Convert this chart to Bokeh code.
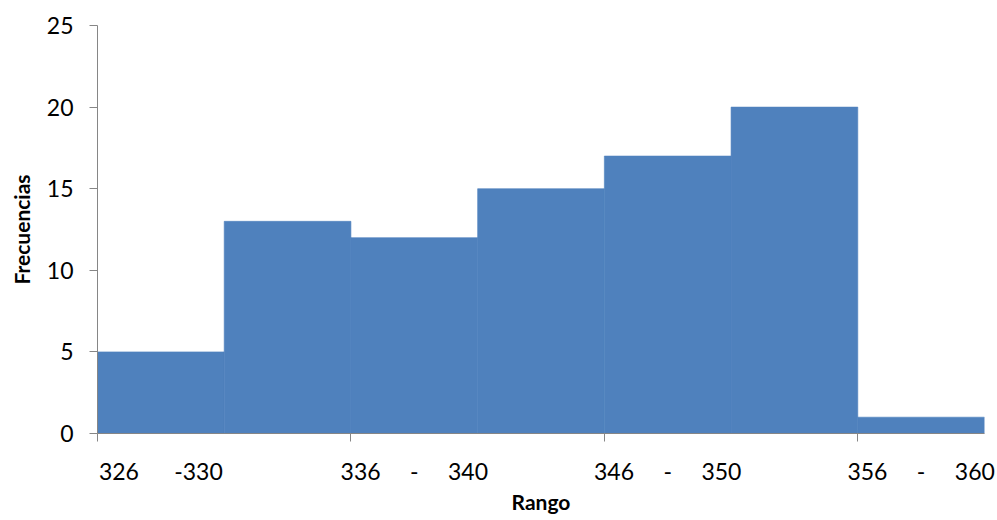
from bokeh.plotting import figure
from bokeh.models import FixedTicker, LinearAxis, Range1d, ColumnDataSource
from bokeh.embed import file_html
from bokeh.resources import INLINE

# Frequency table: class intervals and counts
rangos = ["326 - 330", "331 - 335", "336 - 340", "341 - 345",
          "346 - 350", "351 - 355", "356 - 360"]
frecuencias = [5, 13, 12, 15, 17, 20, 1]
y_ticks = [0, 5, 10, 15, 20, 25]

# Only every other interval gets a printed label on the axis
SP = "\u00a0"
shown_labels = {
    0: "326" + SP * 6 + "-330",
    2: "336" + SP * 5 + "-" + SP * 5 + "340",
    4: "346" + SP * 5 + "-" + SP * 5 + "350",
    6: "356" + SP * 5 + "-" + SP * 5 + "360",
}

FONT = "Lato"
GREY = "#868686"
BLUE = "#4F81BD"

n = len(rangos)
src = ColumnDataSource(dict(
    left=list(range(n)),
    right=[i + 1 for i in range(n)],
    top=frecuencias,
    bottom=[0] * n,
    rango=rangos,
))

p = figure(width=997, height=520, output_backend="svg", toolbar_location=None,
           x_range=Range1d(0, n), y_range=Range1d(0, 25),
           x_axis_location=None, y_axis_location=None,
           min_border_left=97, min_border_right=13,
           min_border_top=25, min_border_bottom=87)
p.outline_line_color = None
p.grid.visible = False
p.background_fill_color = "white"
p.border_fill_color = "white"

p.quad(left="left", right="right", top="top", bottom="bottom", source=src,
       fill_color=BLUE, line_color=BLUE, line_width=0.6)

# Y axis
yax = LinearAxis(ticker=FixedTicker(ticks=y_ticks), axis_label="Frecuencias")
yax.axis_line_color = GREY
yax.major_tick_line_color = GREY
yax.major_tick_in = 0
yax.major_tick_out = 8
yax.minor_tick_line_color = None
yax.major_label_text_font = FONT
yax.major_label_text_font_size = "23px"
yax.major_label_text_color = "black"
yax.major_label_standoff = 16
yax.axis_label_text_font = FONT
yax.axis_label_text_font_style = "bold"
yax.axis_label_text_font_size = "21px"
yax.axis_label_text_color = "black"
yax.axis_label_standoff = 10
p.add_layout(yax, "left")

# X axis: labels centred under each labelled bar, tick marks at the
# left boundary of those bars (drawn as minor ticks)
centres = [k + 0.5 for k in shown_labels]
xax = LinearAxis(ticker=FixedTicker(ticks=centres, minor_ticks=list(shown_labels)),
                 axis_label="Rango",
                 major_label_overrides={k + 0.5: t for k, t in shown_labels.items()})
xax.axis_line_color = GREY
xax.major_tick_line_color = None
xax.minor_tick_line_color = GREY
xax.minor_tick_in = 0
xax.minor_tick_out = 8
xax.major_tick_in = 0
xax.major_tick_out = 0
xax.major_label_text_font = FONT
xax.major_label_text_font_size = "23px"
xax.major_label_text_color = "black"
xax.major_label_standoff = 15
xax.axis_label_text_font = FONT
xax.axis_label_text_font_style = "bold"
xax.axis_label_text_font_size = "21px"
xax.axis_label_text_color = "black"
xax.axis_label_standoff = 1
p.add_layout(xax, "below")

open("out.html", "w").write(file_html(p, INLINE))
